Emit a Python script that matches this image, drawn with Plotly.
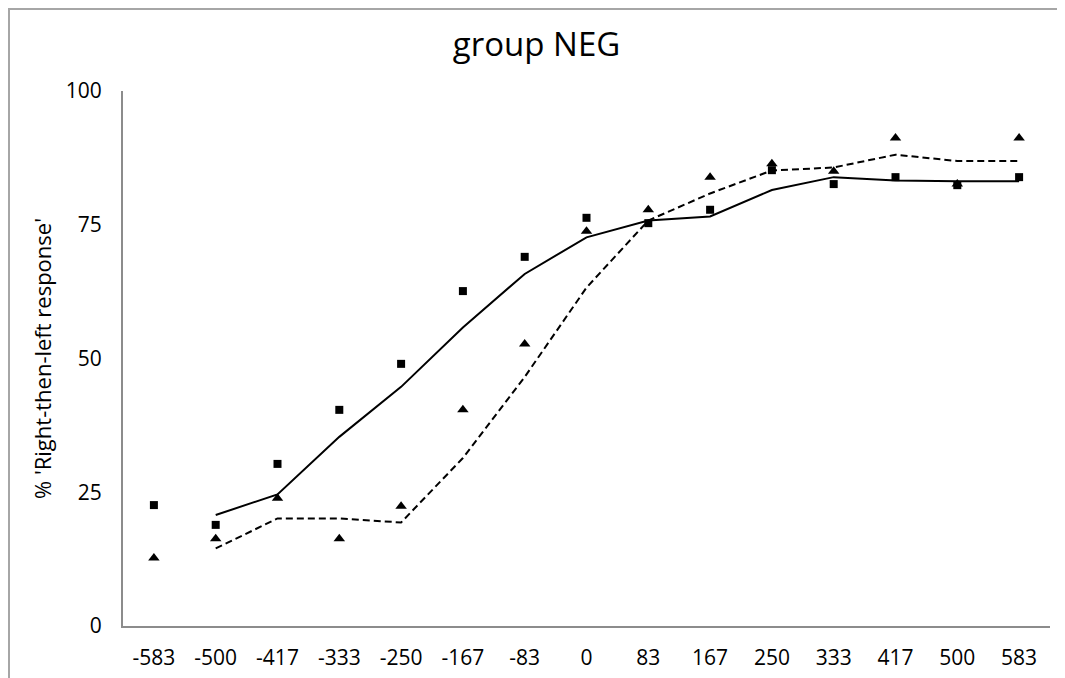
import plotly.graph_objects as go
import pandas as pd

categories = ["-583", "-500", "-417", "-333", "-250", "-167", "-83", "0",
              "83", "167", "250", "333", "417", "500", "583"]
squares = [22.6, 18.9, 30.3, 40.4, 49.0, 62.6, 69.0, 76.3,
           75.3, 77.8, 85.2, 82.6, 83.9, 82.4, 83.9]
triangles = [12.7, 16.3, 23.9, 16.3, 22.4, 40.4, 52.7, 73.8,
             77.8, 83.9, 86.4, 85.0, 91.2, 82.6, 91.2]

# Excel-style 2-period moving-average trendlines
sq_ma = pd.Series(squares).rolling(2).mean().tolist()
tr_ma = pd.Series(triangles).rolling(2).mean().tolist()

fig = go.Figure()
fig.add_trace(go.Scatter(x=categories, y=tr_ma, mode="lines",
                         line=dict(color="black", width=2, dash="7px,4px"),
                         showlegend=False, hoverinfo="skip"))
fig.add_trace(go.Scatter(x=categories, y=sq_ma, mode="lines",
                         line=dict(color="black", width=2),
                         showlegend=False, hoverinfo="skip"))
fig.add_trace(go.Scatter(x=categories, y=triangles, mode="markers",
                         marker=dict(symbol="triangle-up", size=10, color="black"),
                         showlegend=False))
fig.add_trace(go.Scatter(x=categories, y=squares, mode="markers",
                         marker=dict(symbol="square", size=8, color="black"),
                         showlegend=False))

W, H = 1057, 670
L, R, T, B = 115, 15, 83, 52
pw, ph = W - L - R, H - T - B

font_family = "Open Sans, Noto Sans, sans-serif"
fig.update_layout(
    width=W, height=H,
    margin=dict(l=L, r=R, t=T, b=B, autoexpand=False),
    paper_bgcolor="white", plot_bgcolor="white",
    title=dict(text="group NEG", x=0.5, xanchor="center",
               y=1 - 36 / H, yanchor="middle",
               font=dict(family=font_family, size=33, color="black")),
    font=dict(family=font_family, color="black"),
    xaxis=dict(type="category", range=[-0.5, len(categories) - 0.5],
               showgrid=False, zeroline=False, automargin=False,
               showline=True, linecolor="#8c8c8c", linewidth=2,
               ticks="", ticklabelstandoff=12,
               tickfont=dict(size=21, color="black")),
    yaxis=dict(range=[0, 100], tickvals=[0, 25, 50, 75, 100], showgrid=False,
               zeroline=False, showline=True, linecolor="#8c8c8c", linewidth=2,
               automargin=False, ticks="", ticklabelstandoff=15,
               tickfont=dict(size=21, color="black"),
               title=dict(text="% 'Right-then-left response'",
                          font=dict(size=22, color="black"), standoff=8)),
)
# light-grey chart border (top and left edges visible in the frame)
fig.add_shape(type="line", xref="paper", yref="paper",
              x0=-L / pw, x1=(W - L) / pw, y0=(H - B - 1) / ph, y1=(H - B - 1) / ph,
              line=dict(color="#a6a6a6", width=2))
fig.add_shape(type="line", xref="paper", yref="paper",
              x0=-(L - 1) / pw, x1=-(L - 1) / pw, y0=-B / ph, y1=(H - B - 1) / ph,
              line=dict(color="#a6a6a6", width=2))
fig.write_html("out.html")
